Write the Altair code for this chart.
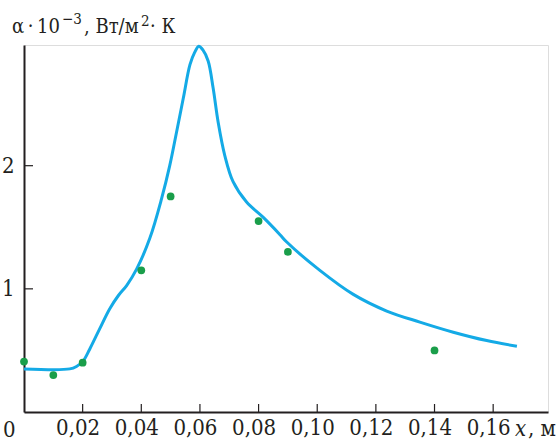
import altair as alt
import pandas as pd

# Experimental points
pt_x = [0.0, 0.01, 0.02, 0.04, 0.05, 0.08, 0.09, 0.14]
pt_y = [0.41, 0.30, 0.40, 1.15, 1.75, 1.55, 1.30, 0.50]

# Calculated curve
cv_x = [0.0, 0.0156, 0.0179, 0.0202, 0.0224, 0.0258, 0.0292, 0.0322, 0.035, 0.0384,
        0.0429, 0.0469, 0.0497, 0.052, 0.0543, 0.0566, 0.0582, 0.0596, 0.061, 0.0628,
        0.0645, 0.0662, 0.0685, 0.0713, 0.0759, 0.0816, 0.0873, 0.0896, 0.1009, 0.1123,
        0.1237, 0.135, 0.1464, 0.1578, 0.1681]
cv_y = [0.35, 0.35, 0.37, 0.415, 0.51, 0.675, 0.837, 0.946, 1.027, 1.16,
        1.41, 1.73, 2.0, 2.27, 2.545, 2.82, 2.92, 2.97, 2.94, 2.85,
        2.63, 2.355, 2.08, 1.87, 1.705, 1.58, 1.44, 1.38, 1.15, 0.955,
        0.82, 0.73, 0.648, 0.58, 0.534]

x_ticks = [0.02, 0.04, 0.06, 0.08, 0.10, 0.12, 0.14, 0.16]
y_ticks = [1, 2]

W, H = 524, 367
FONT = "DejaVu Serif Condensed"
INK = "#231f20"

xscale = alt.Scale(domain=[0, 0.1787], nice=False, zero=False)
yscale = alt.Scale(domain=[0, 2.98], nice=False, zero=False)

xaxis = alt.Axis(values=x_ticks, ticks=False, grid=False, title=None,
                 labelExpr="replace(format(datum.value, '.2f'), '.', ',')",
                 labelFont=FONT, labelFontSize=22, labelColor=INK, labelPadding=5,
                 labelOffset=-5, domainColor=INK, domainWidth=2)
yaxis = alt.Axis(values=y_ticks, ticks=False, grid=False, title=None,
                 labelFont=FONT, labelFontSize=22, labelColor=INK, labelPadding=10,
                 domainColor=INK, domainWidth=2)

curve_df = pd.DataFrame({"x": cv_x, "y": cv_y})
pts_df = pd.DataFrame({"x": pt_x, "y": pt_y})
xt_df = pd.DataFrame({"x": x_ticks})
yt_df = pd.DataFrame({"y": y_ticks})

line = alt.Chart(curve_df).mark_line(color="#14aae6", strokeWidth=3, interpolate="catmull-rom").encode(
    x=alt.X("x:Q", scale=xscale, axis=xaxis),
    y=alt.Y("y:Q", scale=yscale, axis=yaxis),
)
pts = alt.Chart(pts_df).mark_point(filled=True, size=60, color="#1a9e4a", opacity=1).encode(
    x=alt.X("x:Q", scale=xscale, axis=xaxis),
    y=alt.Y("y:Q", scale=yscale, axis=yaxis),
)
xt = alt.Chart(xt_df).mark_rule(color=INK, strokeWidth=1.2).encode(
    x=alt.X("x:Q", scale=xscale, axis=xaxis),
    y=alt.value(H - 8), y2=alt.value(H),
)
yt = alt.Chart(yt_df).mark_rule(color=INK, strokeWidth=1.2).encode(
    y=alt.Y("y:Q", scale=yscale, axis=yaxis),
    x=alt.value(0), x2=alt.value(9),
)

def label(txt, x, y, size=21, style="normal", align="left", font=FONT):
    return alt.Chart(pd.DataFrame({"t": [txt]})).mark_text(
        font=font, fontSize=size, fontStyle=style, color=INK, align=align, baseline="alphabetic"
    ).encode(text="t:N", x=alt.value(x), y=alt.value(y))

texts = [
    label("α\u2009·\u200910", -12, -12, size=20),
    label("−3", 38, -21, size=15),
    label(", Вт/м", 60, -12, size=20),
    label("2", 117, -19, size=15),
    label("· К", 126, -12, size=20),
    label("0", -21, H + 25, size=22),
    label("x", 491, H + 24, size=22, style="italic"),
    label(", м", 504, H + 24, size=22),
]

chart = alt.layer(line, xt, yt, pts, *texts).properties(
    width=W, height=H,
    autosize=alt.AutoSizeParams(type="none"),
    padding={"left": 24, "top": 45, "right": 9, "bottom": 29},
).configure_view(stroke=INK, strokeWidth=1.3).configure(background="white")

chart.save("out.html", embed_options={"renderer": "svg", "actions": False})
